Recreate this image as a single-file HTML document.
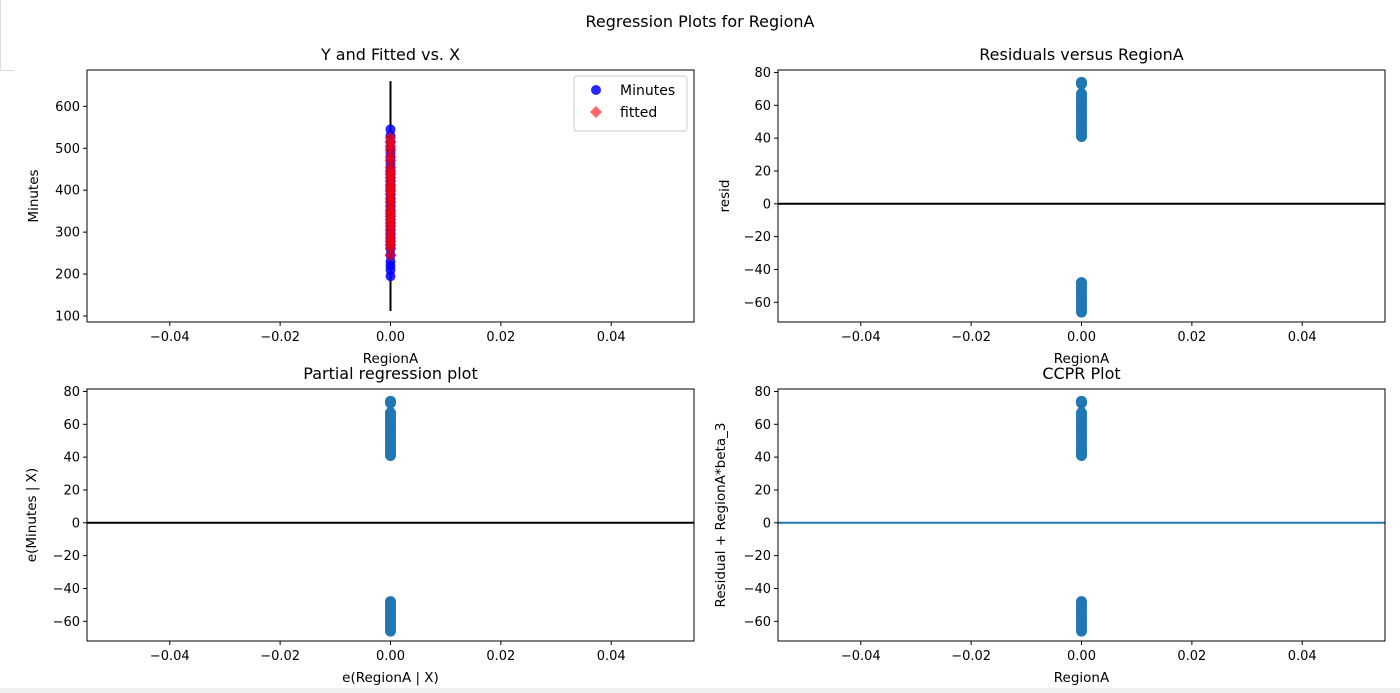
<!DOCTYPE html>
<html><head><meta charset="utf-8"><style>
body{margin:0;background:#fff;}
svg{display:block;font-family:"DejaVu Sans","Liberation Sans",sans-serif;}
</style></head><body>
<svg id="fig" width="1400" height="693" viewBox="0 0 1400 693" xmlns="http://www.w3.org/2000/svg">
<rect x="0" y="0" width="1400" height="693" fill="#fff"/>
<line x1="0.5" y1="0" x2="0.5" y2="70" stroke="#ddd"/>
<line x1="0" y1="70.5" x2="14" y2="70.5" stroke="#ddd"/>
<rect x="0" y="688" width="1400" height="5" fill="#f0f0f0"/>
<text x="700" y="27" text-anchor="middle" font-size="16">Regression Plots for RegionA</text>
</svg>
<script>
const xTicks=[-0.04,-0.02,0.00,0.02,0.04];
const xTickLabels=["−0.04","−0.02","0.00","0.02","0.04"];
const fitTicks=[100,200,300,400,500,600];
const residTicks=[-60,-40,-20,0,20,40,60,80];
const residTickLabels=["−60","−40","−20","0","20","40","60","80"];
const minutesVals=[545,530,515,500,488,475,462,450,440,430,420,410,400,390,380,370,360,350,340,330,320,310,300,290,280,270,260,245,230,220,210,195];
const fittedVals=[525,515,505,495,480,470,455,445,438,430,422,412,405,398,390,380,372,362,352,345,338,330,322,315,305,295,285,278,270,262,245];
const residVals=[74,73,67,65,63,61,59,57,55,53,51,49,47,45,43,42,41,-48,-49,-51,-53,-55,-57,-59,-61,-63,-65,-66];
const ciRange=[112,660];

const NS="http://www.w3.org/2000/svg";
const svg=document.getElementById('fig');
function mk(tag,attrs,parent){const e=document.createElementNS(NS,tag);for(const k in attrs)e.setAttribute(k,attrs[k]);(parent||svg).appendChild(e);return e;}

function panel(o){
  const g=mk('g',{});
  
  
  const sx=v=>o.x0+(v-(-0.055))/(0.11)*(o.x1-o.x0);
  const sy=v=>o.y1-(v-o.ymin)/(o.ymax-o.ymin)*(o.y1-o.y0);
  o.draw(g,sx,sy);
  const fr=mk('rect',{x:o.x0,y:o.y0,width:o.x1-o.x0,height:o.y1-o.y0,fill:'none',stroke:'#000','stroke-width':1},g);
  
  
  xTicks.forEach((t,i)=>{
    const x=sx(t);
    mk('line',{x1:x,y1:o.y1,x2:x,y2:o.y1+4,stroke:'#000'},g);
    const tx=mk('text',{x:x,y:o.y1+19,'text-anchor':'middle','font-size':13},g);
    
    
    tx.textContent=xTickLabels[i];
  });
  o.yt.forEach((t,i)=>{
    const y=sy(t);
    mk('line',{x1:o.x0-4,y1:y,x2:o.x0,y2:y,stroke:'#000'},g);
    const tx=mk('text',{x:o.x0-7,y:y+4.5,'text-anchor':'end','font-size':13},g);
    
    
    tx.textContent=o.ytl[i];
  });
  const ti=mk('text',{x:(o.x0+o.x1)/2,y:o.y0-10,'text-anchor':'middle','font-size':16},g);
  
  
  ti.textContent=o.title;
  const xl=mk('text',{x:(o.x0+o.x1)/2,y:o.y1+41,'text-anchor':'middle','font-size':13.5},g);
  
  
  xl.textContent=o.xlabel;
  const cy=(o.y0+o.y1)/2;
  const yl=mk('text',{x:o.ylx,y:cy,'text-anchor':'middle','font-size':13.5,transform:`rotate(-90 ${o.ylx} ${cy})`},g);
  
  
  yl.textContent=o.ylabel;
}
function residDraw(lineColor){
  return (g,sx,sy)=>{
    const zl=mk('line',{x1:sx(-0.055),x2:sx(0.055),y1:sy(0),y2:sy(0),stroke:lineColor,'stroke-width':2},g);
    
    
    residVals.forEach(v=>{
      const c=mk('circle',{cx:sx(0),cy:sy(v),r:5.5,fill:'#1f77b4'},g);
      
      
    });
  };
}
const L0=87,L1=694,R0=778,R1=1385,T0=70,T1=322,B0=389,B1=641;
panel({name:'y-fitted-panel',x0:L0,x1:L1,y0:T0,y1:T1,ymin:85.7,ymax:686.6,yt:fitTicks,ytl:fitTicks.map(String),
  title:'Y and Fitted vs. X',xlabel:'RegionA',ylabel:'Minutes',ylx:38,
  draw:(g,sx,sy)=>{
    const ci=mk('line',{x1:sx(0),x2:sx(0),y1:sy(ciRange[0]),y2:sy(ciRange[1]),stroke:'#000','stroke-width':2},g);
    
    
    minutesVals.forEach(v=>{
      const c=mk('circle',{cx:sx(0),cy:sy(v),r:5,fill:'#0000ff','fill-opacity':0.85},g);
      
      
    });
    fittedVals.forEach(v=>{
      const x=sx(0),y=sy(v);
      const d=mk('polygon',{points:`${x},${y-6} ${x+6},${y} ${x},${y+6} ${x-6},${y}`,fill:'#ff0000','fill-opacity':0.65},g);
      
      
    });
    const lg=mk('g',{},g);
    
    
    mk('rect',{x:574,y:76,width:113,height:55,rx:3,fill:'#fff','fill-opacity':0.8,stroke:'#ccc'},lg);
    mk('circle',{cx:596,cy:90,r:5,fill:'#0000ff','fill-opacity':0.85},lg);
    mk('polygon',{points:'596,106 602,112 596,118 590,112',fill:'#ff0000','fill-opacity':0.6},lg);
    const t1=mk('text',{x:620,y:95,'font-size':14},lg);t1.textContent='Minutes';
    
    
    const t2=mk('text',{x:620,y:117,'font-size':14},lg);t2.textContent='fitted';
    
    
  }});
panel({name:'residuals-panel',x0:R0,x1:R1,y0:T0,y1:T1,ymin:-72,ymax:81.5,yt:residTicks,ytl:residTickLabels,
  title:'Residuals versus RegionA',xlabel:'RegionA',ylabel:'resid',ylx:729,draw:residDraw('#000')});
panel({name:'partial-regression-panel',x0:L0,x1:L1,y0:B0,y1:B1,ymin:-72,ymax:81.5,yt:residTicks,ytl:residTickLabels,
  title:'Partial regression plot',xlabel:'e(RegionA | X)',ylabel:'e(Minutes | X)',ylx:36,draw:residDraw('#000')});
panel({name:'ccpr-panel',x0:R0,x1:R1,y0:B0,y1:B1,ymin:-72,ymax:81.5,yt:residTicks,ytl:residTickLabels,
  title:'CCPR Plot',xlabel:'RegionA',ylabel:'Residual + RegionA*beta_3',ylx:725,draw:residDraw('#1f77b4')});
</script>
</body></html>
